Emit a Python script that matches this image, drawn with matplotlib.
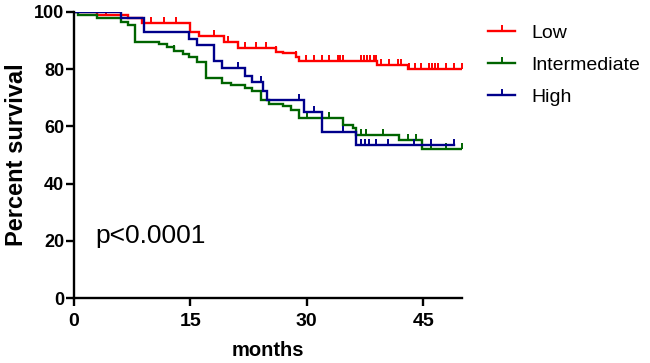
import numpy as np
import matplotlib
matplotlib.use("Agg")
from matplotlib import pyplot as plt
from matplotlib.path import Path
from matplotlib.lines import Line2D

plt.rcParams['font.family'] = ['Liberation Sans', 'DejaVu Sans']

# step curves: event times (months) and survival (%) after each event
low_t = [0, 3.0, 6.9, 8.8, 15.0, 16.1, 19.3, 21.1, 26.0, 26.9, 28.6, 29.0, 39.1, 43.0, 50]
low_s = [100, 99, 98, 96.3, 93, 91.6, 89.6, 87.5, 86, 85.5, 84.4, 82.9, 81.5, 80, 80]
low_c = [2.1, 4.1, 9.9, 11.6, 13.1, 18.0, 19.9, 22.1, 23.4, 24.7, 26.0, 28.6, 29.9, 30.9,
         32.0, 32.9, 34.0, 34.3, 34.6, 37.0, 37.4, 37.8, 38.2, 38.6, 38.9, 39.5, 40.6,
         41.7, 42.1, 43.2, 44.0, 44.7, 45.7, 46.1, 46.5, 46.9, 47.9, 49.0, 50.0]

int_t = [0, 0.5, 3.0, 6.0, 6.9, 7.9, 10.9, 12.0, 12.9, 14.0, 14.8, 15.9, 17.0, 19.1, 20.2,
         22.1, 23.0, 24.1, 25.1, 26.9, 27.9, 29.0, 34.6, 35.9, 36.3, 41.9, 44.9, 50]
int_s = [100, 99, 97.8, 96.6, 95.5, 89.6, 88.8, 87.9, 86.5, 85.3, 84.2, 82.6, 76.8, 75.3,
         74.5, 73.3, 72.5, 69.2, 68.0, 67.1, 65.7, 62.8, 60.5, 59.3, 57.0, 55.2, 52.1, 52.1]
int_c = [0.3, 12.9, 30.0, 32.9, 34.6, 37.0, 37.6, 39.8, 43.0, 44.1, 46.0, 47.9, 50.0]

high_t = [0, 6.0, 9.0, 14.8, 15.9, 18.0, 19.1, 22.1, 23.0, 24.3, 24.9, 29.7, 32.0, 36.3, 49]
high_s = [100, 98, 92.9, 90.4, 88.5, 83, 80.5, 77.6, 75.6, 72.5, 69.2, 65.2, 57.9, 53.5, 53.5]
high_c = [21.1, 24.1, 29.0, 30.9, 34.6, 37.0, 37.5, 38.0, 38.9, 40.4, 43.8, 46.0, 49.0]

labels = ["Low", "Intermediate", "High"]
colors = ["#ff0000", "#006400", "#00008b"]

tick_up = Path([(0, 0), (0, 1)], [Path.MOVETO, Path.LINETO])

fig = plt.figure(figsize=(6.5, 3.63), dpi=100)
ax = fig.add_axes([0.1138, 0.179, 0.597, 0.788])

handles = []
for t, s, c, lab, col in zip([low_t, int_t, high_t], [low_s, int_s, high_s],
                             [low_c, int_c, high_c], labels, colors):
    ax.step(t, s, where='post', color=col, lw=1.7, solid_joinstyle='miter')
    t_arr = np.array(t)
    idx = np.searchsorted(t_arr, c, side='right') - 1
    cs = np.array(s)[idx]
    ax.plot(c, cs, linestyle='none', marker=tick_up, markersize=9,
            markeredgewidth=1.4, color=col)
    handles.append(Line2D([], [], color=col, lw=1.7, marker=tick_up,
                          markersize=9, markeredgewidth=1.4, label=lab))

ax.set_xlim(0, 50)
ax.set_ylim(0, 100)
ax.set_xticks([0, 15, 30, 45])
ax.set_yticks([0, 20, 40, 60, 80, 100])
for side in ['top', 'right']:
    ax.spines[side].set_visible(False)
for side in ['left', 'bottom']:
    ax.spines[side].set_linewidth(1.7)
ax.tick_params(axis='x', width=1.7, length=6, labelsize=14, pad=5)
ax.tick_params(axis='y', width=1.7, length=6, labelsize=13, pad=1)
for lbl in ax.get_xticklabels() + ax.get_yticklabels():
    lbl.set_fontweight('bold')
ax.set_xlabel("months", fontsize=14.5, fontweight='bold', labelpad=8)
ax.set_ylabel("Percent survival", fontsize=17, fontweight='bold', labelpad=4)

ax.text(2.8, 19.2, "p<0.0001", fontsize=19, va='baseline', ha='left')

leg = ax.legend(handles=handles, loc='upper left', bbox_to_anchor=(1.067, 0.957),
                frameon=False, fontsize=14, handlelength=1.4, handletextpad=0.82,
                labelspacing=0.75, borderpad=0, borderaxespad=0, numpoints=1)

fig.savefig("out.png", dpi=100)
